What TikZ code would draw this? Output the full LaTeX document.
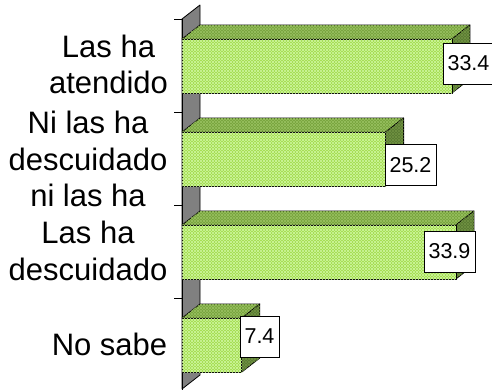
\documentclass[tikz,border=0pt]{standalone}
\usepackage{fontspec}
\setmainfont{Liberation Sans}
\usetikzlibrary{patterns}
\pgfdeclarepatternformonly{lattice}{\pgfqpoint{-1pt}{-1pt}}{\pgfqpoint{7pt}{7pt}}{\pgfqpoint{6pt}{6pt}}{%
  \pgfsetlinewidth{0.6pt}%
  \pgfpathmoveto{\pgfqpoint{0pt}{0pt}}\pgfpathlineto{\pgfqpoint{6pt}{6pt}}%
  \pgfpathmoveto{\pgfqpoint{0pt}{6pt}}\pgfpathlineto{\pgfqpoint{6pt}{0pt}}%
  \pgfusepath{stroke}%
  \pgfpathcircle{\pgfqpoint{3pt}{0pt}}{0.8pt}%
  \pgfpathcircle{\pgfqpoint{0pt}{3pt}}{0.8pt}%
  \pgfpathcircle{\pgfqpoint{6pt}{3pt}}{0.8pt}%
  \pgfpathcircle{\pgfqpoint{3pt}{6pt}}{0.8pt}%
  \pgfusepath{fill}%
}
\definecolor{frontc}{RGB}{164,220,80}
\definecolor{frontp}{RGB}{208,248,162}
\definecolor{topc}{RGB}{120,164,62}
\definecolor{topp}{RGB}{154,194,98}
\definecolor{sidec}{RGB}{90,122,50}
\definecolor{sidep}{RGB}{114,148,68}
\definecolor{wallc}{RGB}{128,128,128}
\tikzset{
  edge/.style={draw=black, line width=0.8pt, line join=round},
  frontface/.style={edge, fill=frontc, postaction={pattern=lattice, pattern color=frontp}},
  topface/.style={edge, fill=topc, postaction={pattern=lattice, pattern color=topp}},
  sideface/.style={edge, fill=sidec, postaction={pattern=lattice, pattern color=sidep}},
  valbox/.style={draw=black, line width=0.6pt, fill=white, minimum width=0pt, minimum height=41pt, inner xsep=4.5pt, inner ysep=0pt, font=\fontsize{21.5}{25}\selectfont},
  catline/.style={anchor=base, inner sep=0pt, font=\fontsize{31}{36}\selectfont},
  tick/.style={draw=black, line width=0.8pt}
}
\newcommand{\mybar}[3]{%
  \path[topface] (182,#1) -- (200,#1-14) -- (#3+18,#1-14) -- (#3,#1) -- cycle;
  \path[sideface] (#3,#1) -- (#3+18,#1-14) -- (#3+18,#2-14) -- (#3,#2) -- cycle;
  \path[frontface] (182,#1) rectangle (#3,#2);
}
\begin{document}
\begin{tikzpicture}[x=1pt,y=-1pt]
\useasboundingbox (0,0) rectangle (492,389);
% wall
\path[edge, fill=wallc] (182,19) -- (200,5) -- (200,375) -- (182,389) -- cycle;
\draw[tick] (182,19) -- (182,392);
\foreach \ty in {19,112,205,298,391} { \draw[tick] (174,\ty) -- (182,\ty); }
% bars
\mybar{39}{93}{451.9}
\mybar{132}{186}{385.6}
\mybar{225}{279}{455.9}
\mybar{318}{372}{241.8}
% value labels
\node[valbox] (v1) at (468.5,63.5) {33.4};
\node[valbox] (v2) at (410.5,165) {25.2};
\node[valbox] (v3) at (449.5,251.5) {33.9};
\node[valbox] (v4) at (259.5,336.5) {7.4};
% category labels
\node[catline] (c1a) at (108.5,57.3) {Las ha};
\node[catline] (c1b) at (108.5,93.3) {atendido};
\node[catline] (c2a) at (88,133.5) {Ni las ha};
\node[catline] (c2b) at (88,170) {descuidado};
\node[catline] (c2c) at (88,206.7) {ni las ha};
\node[catline] (c3a) at (88,243) {Las ha};
\node[catline] (c3b) at (88,280) {descuidado};
\node[catline] (c4a) at (109.5,355) {No sabe};
\end{tikzpicture}
\end{document}
